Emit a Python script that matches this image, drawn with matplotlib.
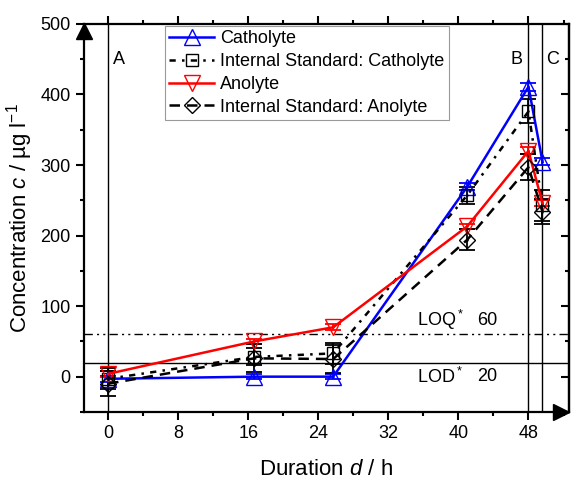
import matplotlib.pyplot as plt
import numpy as np

plt.rcParams['font.family'] = ['Liberation Sans', 'DejaVu Sans']
plt.rcParams['mathtext.fontset'] = 'custom'
plt.rcParams['mathtext.rm'] = 'Liberation Sans'
plt.rcParams['mathtext.it'] = 'Liberation Sans:italic'

# duration in h
duration = [0, 16.7, 25.7, 41, 48, 49.6]

catholyte = [-3, 0, 0, 269, 411, 305]
catholyte_err = [4, 4, 4, 5, 6, 5]
is_catholyte = [-3, 28, 33, 257, 376, 243]
is_catholyte_err = [15, 12, 15, 12, 17, 22]
anolyte = [4, 50, 70, 213, 320, 246]
anolyte_err = [4, 4, 4, 4, 5, 4]
is_anolyte = [-10, 26, 25, 194, 297, 234]
is_anolyte_err = [18, 20, 20, 15, 18, 18]

lod, loq = 20, 60
phase_lines = [0, 48, 49.6]

fig = plt.figure(figsize=(5.73, 4.79), dpi=100)
ax = fig.add_axes([0.1466, 0.140, 0.846, 0.810])

series = [
    (catholyte, catholyte_err, 'blue', '-', '^', 11, 'Catholyte'),
    (is_catholyte, is_catholyte_err, 'black', (0, (2.5, 2.5, 1, 2.5)), 's', 9, 'Internal Standard: Catholyte'),
    (anolyte, anolyte_err, 'red', '-', 'v', 11, 'Anolyte'),
    (is_anolyte, is_anolyte_err, 'black', (0, (4.2, 2.8)), 'D', 8, 'Internal Standard: Anolyte'),
]

for vals, err, col, ls, mk, ms, lab in series:
    ax.errorbar(duration, vals, yerr=err, fmt='none', ecolor=col,
                elinewidth=1.3, capsize=6, capthick=1.3, zorder=3)
    ax.plot(duration, vals, color=col, ls=ls, lw=1.8, marker=mk, ms=ms,
            mfc='none', mec=col, mew=1.0, label=lab, zorder=4)
    ax.plot(duration, vals, ls='none', marker='.', ms=1.5, color=col, zorder=5)

ax.axhline(lod, color='black', lw=1.0, zorder=2)
ax.axhline(loq, color='black', lw=1.0, ls=(0, (6, 3, 1.5, 3, 1.5, 3)), zorder=2)
for xv in phase_lines:
    ax.axvline(xv, color='black', lw=1.0, zorder=2)

ax.text(0.6, 450, 'A', fontsize=13, va='center')
ax.text(46.0, 450, 'B', fontsize=13, va='center')
ax.text(50.0, 450, 'C', fontsize=13, va='center')
ax.text(35.3, 80, 'LOQ$^*$', fontsize=13, va='center')
ax.text(42.1, 80, '60', fontsize=13, va='center')
ax.text(35.3, 0, 'LOD$^*$', fontsize=13, va='center')
ax.text(42.1, 0, '20', fontsize=13, va='center')

ax.set_xlim(-2.75, 52.6)
ax.set_ylim(-50, 500)
ax.set_xticks([0, 8, 16, 24, 32, 40, 48])
ax.set_xticks(np.arange(4, 53, 8), minor=True)
ax.set_yticks([0, 100, 200, 300, 400, 500])
ax.set_yticks([-50, 50, 150, 250, 350, 450], minor=True)
ax.tick_params(axis='both', which='major', labelsize=13, width=1.5, length=6,
               direction='out', top=True, right=False)
ax.tick_params(axis='both', which='minor', width=1.5, length=3,
               direction='out', top=True, right=False)
for s in ax.spines.values():
    s.set_linewidth(1.6)

# right axis ticks point inward
rax = ax.secondary_yaxis('right')
rax.set_yticks([0, 100, 200, 300, 400, 500])
rax.set_yticks([-50, 50, 150, 250, 350, 450], minor=True)
rax.tick_params(which='major', direction='in', length=6, width=1.5, labelright=False)
rax.tick_params(which='minor', direction='in', length=3, width=1.5)
rax.spines['right'].set_linewidth(1.6)

ax.set_xlabel('Duration $d$ / h', fontsize=16, labelpad=12)
ax.set_ylabel('Concentration $c$ / µg l$^{-1}$', fontsize=16, labelpad=4)

# axis arrows
ax.plot([0], [0.982], marker='^', ms=11, color='black', transform=ax.transAxes,
        clip_on=False, zorder=6)
ax.plot([0.985], [0], marker='>', ms=11, color='black', transform=ax.transAxes,
        clip_on=False, zorder=6)

leg = ax.legend(loc='upper left', bbox_to_anchor=(0.163, 1.0), fontsize=13,
                frameon=True, fancybox=False, edgecolor='gray',
                handlelength=2.5, borderpad=0.25, labelspacing=0.32,
                handletextpad=0.3, borderaxespad=0.1)
leg.get_frame().set_linewidth(0.8)

fig.savefig('out.png', dpi=100)
